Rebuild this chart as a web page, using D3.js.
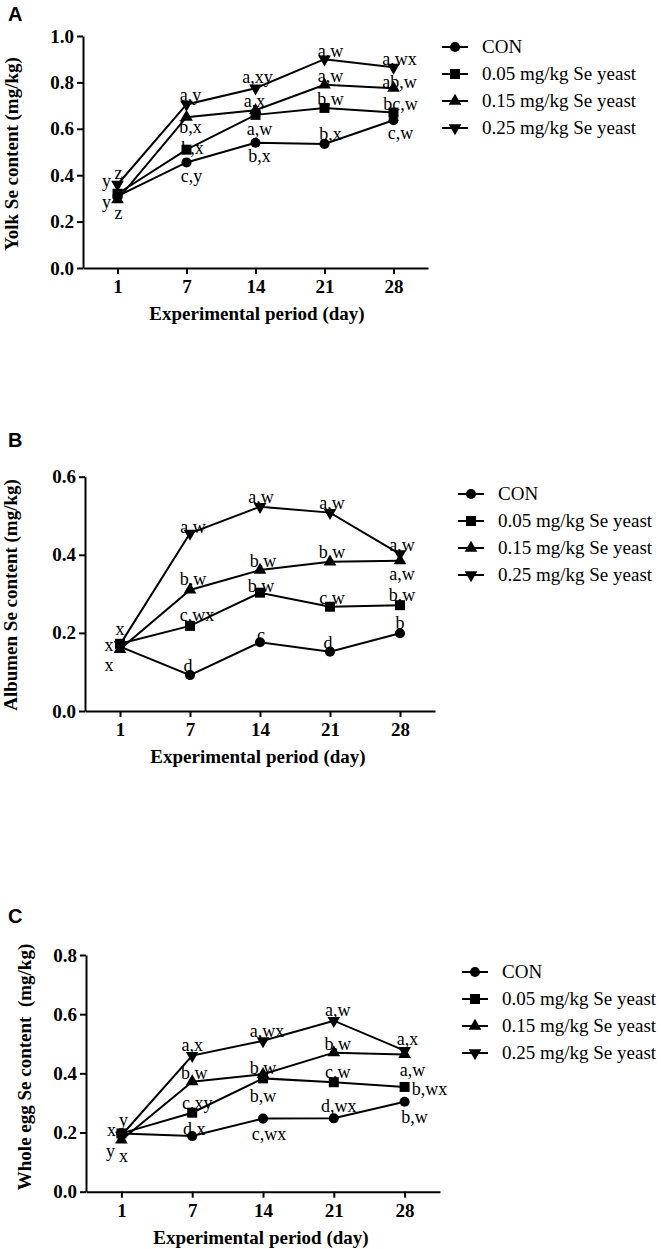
<!DOCTYPE html>
<html lang="en">
<head>
    <meta charset="UTF-8">
    <title>Se content in eggs</title>
    <script src="https://d3js.org/d3.v7.min.js"></script>
    <style>
        body { margin: 0; background: #fff; }
        svg { display: block; }
        .axis path, .axis line { stroke: #000; stroke-width: 2; fill: none; }
        .axis text { font-family: "Liberation Serif", "Times New Roman", serif; font-weight: bold; font-size: 19px; fill: #000; }
        .title { font-family: "Liberation Serif", "Times New Roman", serif; font-weight: bold; font-size: 19px; white-space: pre; }
        .ptlabel { font-family: "Liberation Serif", "Times New Roman", serif; font-size: 18px; }
        .legend text { font-family: "Liberation Serif", "Times New Roman", serif; font-size: 19px; }
        .panel-letter { font-family: "Liberation Sans", Arial, sans-serif; font-weight: bold; font-size: 20px; }
    </style>
</head>
<body>
    <svg width="661" height="1249"></svg>

    <script>
        // Data
        var days = [1, 7, 14, 21, 28];
        var seriesNames = ["CON", "0.05 mg/kg Se yeast", "0.15 mg/kg Se yeast", "0.25 mg/kg Se yeast"];

        // A: yolk
        var yolkCon  = [0.31, 0.455, 0.54, 0.535, 0.637];
        var yolkSe05 = [0.32, 0.51, 0.66, 0.69, 0.67];
        var yolkSe15 = [0.295, 0.65, 0.68, 0.79, 0.775];
        var yolkSe25 = [0.36, 0.705, 0.775, 0.90, 0.865];
        var yolkConLab  = ["y", "c,y", "b,x", "b,x", "c,w"];
        var yolkSe05Lab = ["y", "b,x", "a,w", "b,w", "bc,w"];
        var yolkSe15Lab = ["z", "b,x", "a,x", "a,w", "ab,w"];
        var yolkSe25Lab = ["z", "a,y", "a,xy", "a,w", "a,wx"];
        var yolkTicks = [0, 0.2, 0.4, 0.6, 0.8, 1.0];

        // B: albumen
        var albCon  = [0.165, 0.092, 0.176, 0.152, 0.199];
        var albSe05 = [0.172, 0.218, 0.303, 0.267, 0.271];
        var albSe15 = [0.158, 0.31, 0.361, 0.382, 0.385];
        var albSe25 = [0.17, 0.455, 0.523, 0.508, 0.402];
        var albConLab  = ["x", "d", "c", "d", "b"];
        var albSe05Lab = ["x", "c,wx", "b,w", "c,w", "b,w"];
        var albSe15Lab = ["x", "b,w", "b,w", "b,w", "a,w"];
        var albSe25Lab = ["", "a,w", "a,w", "a,w", "a,w"];
        var albTicks = [0, 0.2, 0.4, 0.6];

        // C: whole egg
        var eggCon  = [0.197, 0.188, 0.247, 0.248, 0.304];
        var eggSe05 = [0.197, 0.267, 0.383, 0.370, 0.354];
        var eggSe15 = [0.175, 0.372, 0.397, 0.47, 0.464];
        var eggSe25 = [0.19, 0.46, 0.51, 0.578, 0.477];
        var eggConLab  = ["x", "d,x", "c,wx", "d,wx", "b,w"];
        var eggSe05Lab = ["y", "c,xy", "b,w", "c,w", "b,wx"];
        var eggSe15Lab = ["x", "b,w", "b,w", "b,w", "a,w"];
        var eggSe25Lab = ["y", "a,x", "a,wx", "a,w", "a,x"];
        var eggTicks = [0, 0.2, 0.4, 0.6, 0.8];

        // label nudges (px) relative to each point, per series
        var yolkNudge = [
            [[-11, 7], [5, 14], [4, 14], [6, -9], [7, 13]],
            [[-11, -12], [6, -1], [4, 15], [6, -8], [7, -8]],
            [[1, 14], [4, 10], [-1, -9], [6, -8], [6, -6]],
            [[1, -11], [4, -9], [2, -11], [6, -8], [6, -8]]
        ];
        var albNudge = [
            [[-11, -1], [-2, -8], [1, -7], [-2, -8], [0, -10]],
            [[0, -14], [7, -10], [1, -6], [2, -8], [2, -10]],
            [[-11, 16], [3, -10], [3, -8], [2, -9], [2, 14]],
            [[0, 0], [3, -6], [1, -9], [2, -9], [2, -8]]
        ];
        var eggNudge = [
            [[-10, -3], [2, -6], [6, 16], [5, -12], [10, 16]],
            [[2, -13], [5, -9], [0, 18], [4, -10], [25, 3]],
            [[2, 17], [2, -8], [0, -6], [4, -8], [8, 16]],
            [[-11, 16], [0, -10], [4, -9], [4, -10], [3, -11]]
        ];

        var symbols = [
            d3.symbol().type(d3.symbolCircle).size(80),
            d3.symbol().type(d3.symbolSquare).size(100),
            d3.symbol().type(d3.symbolTriangle).size(70),
            d3.symbol().type(d3.symbolTriangle).size(70)
        ];
        var rot = [0, 0, 0, 180];

        var svg = d3.select("svg");

        function drawPanel(p) {
            var x = d3.scalePoint().domain(days).range([p.x0, p.x1]).padding(0.5).align(0.5);
            var y = d3.scaleLinear().domain([0, p.ymax]).range([p.yBottom, p.yTop]);
            var g = svg.append("g");

            g.append("text").attr("class", "panel-letter")
                .attr("x", 8).attr("y", p.letterY).text(p.letter);

            g.append("g").attr("class", "axis")
                .attr("transform", "translate(0," + p.yBottom + ")")
                .call(d3.axisBottom(x).tickSize(6).tickSizeOuter(0).tickPadding(6));

            g.append("g").attr("class", "axis")
                .attr("transform", "translate(" + p.x0 + ",0)")
                .call(d3.axisLeft(y).tickValues(p.ticks).tickFormat(d3.format(".1f"))
                    .tickSize(6).tickSizeOuter(0).tickPadding(3));

            var line = d3.line()
                .x(function(d, i) { return x(days[i]); })
                .y(function(d) { return y(d); });

            p.series.forEach(function(vals) {
                g.append("path").attr("d", line(vals))
                    .attr("fill", "none").attr("stroke", "#000").attr("stroke-width", 2);
            });

            p.series.forEach(function(vals, s) {
                g.selectAll(null).data(vals).enter().append("path")
                    .attr("d", symbols[s])
                    .attr("transform", function(d, i) {
                        return "translate(" + x(days[i]) + "," + y(d) + ") rotate(" + rot[s] + ")";
                    })
                    .attr("fill", "#000");
            });

            p.series.forEach(function(vals, s) {
                g.selectAll(null).data(vals).enter().append("text")
                    .attr("class", "ptlabel")
                    .attr("text-anchor", "middle")
                    .attr("x", function(d, i) { return x(days[i]) + p.nudge[s][i][0]; })
                    .attr("y", function(d, i) { return y(d) + p.nudge[s][i][1]; })
                    .attr("dy", "0.3em")
                    .text(function(d, i) { return p.labels[s][i]; });
            });

            g.append("text").attr("class", "title")
                .attr("text-anchor", "middle")
                .attr("x", p.xTitleX).attr("y", p.xTitleY)
                .text("Experimental period (day)");

            g.append("text").attr("class", "title")
                .attr("text-anchor", "middle")
                .attr("transform", "translate(" + p.yTitleX + "," + p.yTitleY + ") rotate(-90)")
                .text(p.yTitle);

            // legend
            var lg = g.append("g").attr("class", "legend");
            seriesNames.forEach(function(name, s) {
                var ly = p.legY + s * 27;
                lg.append("line").attr("x1", p.legX).attr("x2", p.legX + 26)
                    .attr("y1", ly).attr("y2", ly)
                    .attr("stroke", "#000").attr("stroke-width", 2);
                lg.append("path").attr("d", symbols[s])
                    .attr("transform", "translate(" + (p.legX + 13) + "," + ly + ") rotate(" + rot[s] + ")");
                lg.append("text").attr("x", p.legX + 40).attr("y", ly).attr("dy", "0.33em").text(name);
            });
        }

        drawPanel({
            letter: "A", letterY: 21,
            x0: 83, x1: 428, yBottom: 268, yTop: 36, ymax: 1.0, ticks: yolkTicks,
            series: [yolkCon, yolkSe05, yolkSe15, yolkSe25],
            labels: [yolkConLab, yolkSe05Lab, yolkSe15Lab, yolkSe25Lab],
            nudge: yolkNudge,
            xTitleX: 257, xTitleY: 320,
            yTitle: "Yolk Se content (mg/kg)", yTitleX: 18, yTitleY: 154,
            legX: 442, legY: 47
        });

        drawPanel({
            letter: "B", letterY: 447,
            x0: 85, x1: 435, yBottom: 711, yTop: 476.7, ymax: 0.6, ticks: albTicks,
            series: [albCon, albSe05, albSe15, albSe25],
            labels: [albConLab, albSe05Lab, albSe15Lab, albSe25Lab],
            nudge: albNudge,
            xTitleX: 258, xTitleY: 763,
            yTitle: "Albumen Se content (mg/kg)", yTitleX: 17, yTitleY: 595,
            legX: 458, legY: 494
        });

        drawPanel({
            letter: "C", letterY: 923,
            x0: 86, x1: 440, yBottom: 1191.7, yTop: 955, ymax: 0.8, ticks: eggTicks,
            series: [eggCon, eggSe05, eggSe15, eggSe25],
            labels: [eggConLab, eggSe05Lab, eggSe15Lab, eggSe25Lab],
            nudge: eggNudge,
            xTitleX: 261, xTitleY: 1244,
            yTitle: "Whole egg Se content  (mg/kg)", yTitleX: 31, yTitleY: 1067,
            legX: 462, legY: 972
        });
    </script>
</body>
</html>
